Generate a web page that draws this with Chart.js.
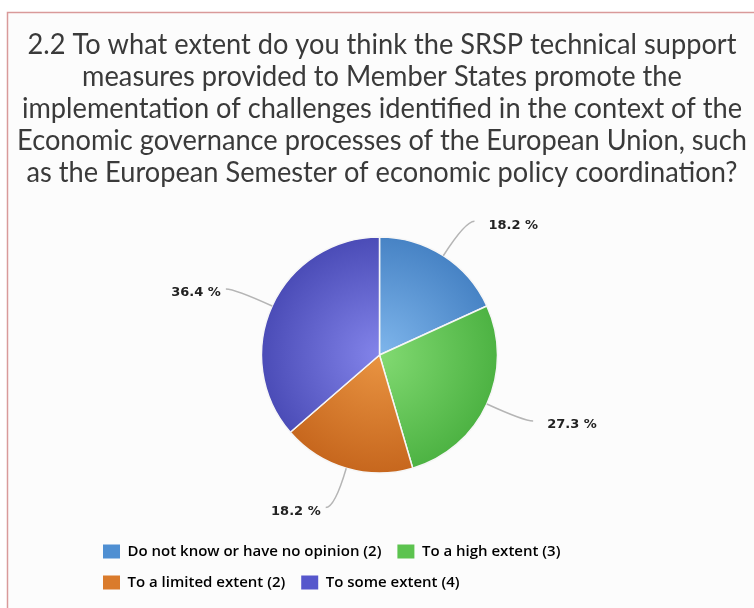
<!DOCTYPE html>
<html>
<head>
<meta charset="utf-8">
<script src="https://cdn.jsdelivr.net/npm/chart.js@4.4.1/dist/chart.umd.min.js"></script>
<style>
  html, body { margin: 0; padding: 0; background: #fff; }
  #wrap { position: relative; width: 754px; height: 608px; }
</style>
</head>
<body>
<div id="wrap"><canvas id="pieChart" width="754" height="608"></canvas></div>
<script>
const titleLines = [
  '2.2 To what extent do you think the SRSP technical support',
  'measures provided to Member States promote the',
  'implementation of challenges identified in the context of the',
  'Economic governance processes of the European Union, such',
  'as the European Semester of economic policy coordination?'
];
const categories = ['Do not know or have no opinion', 'To a high extent', 'To a limited extent', 'To some extent'];
const counts = [2, 3, 2, 4];
const lightColors = ['#7fb6ec', '#82da72', '#e99442', '#8384ea'];
const darkColors = ['#4682c4', '#4cb242', '#c6661d', '#4a4bb6'];
const legendColors = ['#4f8fd2', '#5cc34f', '#da7b2c', '#5657cc'];

document.addEventListener('DOMContentLoaded', function () {
  const total = counts.reduce((a, b) => a + b, 0);

  // frame, background and the question text (wider than the chart area)
  const frame = {
    id: 'frame',
    beforeDraw(chart) {
      const ctx = chart.ctx;
      ctx.save();
      ctx.fillStyle = '#ffffff';
      ctx.fillRect(0, 0, chart.width, chart.height);
      ctx.fillStyle = '#fcfcfc';
      ctx.fillRect(7, 12, chart.width - 7, chart.height - 12);
      ctx.strokeStyle = '#d99a9a';
      ctx.lineWidth = 1.5;
      ctx.beginPath();
      ctx.moveTo(7.5, chart.height);
      ctx.lineTo(7.5, 12.5);
      ctx.lineTo(chart.width, 12.5);
      ctx.stroke();

      // condensed look: 28px Lato squeezed so the first line is ~709px wide
      ctx.font = '28px Lato';
      const sx = 709 / ctx.measureText(titleLines[0]).width;
      ctx.fillStyle = '#3a3a3a';
      ctx.textAlign = 'center';
      ctx.textBaseline = 'middle';
      ctx.translate(382, 0);
      ctx.scale(sx, 1);
      titleLines.forEach((line, i) => ctx.fillText(line, 0, 45 + i * 32));
      ctx.restore();
    }
  };

  // outside labels with curved leader lines
  const pieLabels = {
    id: 'pieLabels',
    afterDatasetsDraw(chart) {
      const ctx = chart.ctx;
      const meta = chart.getDatasetMeta(0);
      ctx.save();
      ctx.font = 'bold 13px "DejaVu Sans"';
      ctx.textBaseline = 'middle';
      meta.data.forEach((arc, i) => {
        const p = arc.getProps(['x', 'y', 'startAngle', 'endAngle', 'outerRadius'], true);
        const mid = (p.startAngle + p.endAngle) / 2;
        const cos = Math.cos(mid), sin = Math.sin(mid);
        const x0 = p.x + cos * p.outerRadius, y0 = p.y + sin * p.outerRadius;
        const x1 = p.x + cos * (p.outerRadius + 41), y1 = p.y + sin * (p.outerRadius + 41);
        const right = cos >= 0;
        const x2 = x1 + (right ? 9 : -9);
        ctx.strokeStyle = '#b5b5b5';
        ctx.lineWidth = 1.5;
        ctx.beginPath();
        ctx.moveTo(x0, y0);
        ctx.quadraticCurveTo(x1, y1, x2, y1);
        ctx.stroke();
        ctx.fillStyle = '#222222';
        ctx.textAlign = right ? 'left' : 'right';
        const label = (counts[i] / total * 100).toFixed(1) + ' %';
        ctx.fillText(label, x2 + (right ? 14 : -5), y1 + 4);
      });
      ctx.restore();
    }
  };

  new Chart(document.getElementById('pieChart'), {
    type: 'pie',
    data: {
      labels: categories,
      datasets: [{
        data: counts,
        backgroundColor: (c) => {
          const area = c.chart.chartArea;
          if (!area) return legendColors[c.dataIndex];
          const cx = (area.left + area.right) / 2, cy = (area.top + area.bottom) / 2;
          const g = c.chart.ctx.createRadialGradient(cx, cy, 0, cx, cy, 120);
          g.addColorStop(0, lightColors[c.dataIndex]);
          g.addColorStop(1, darkColors[c.dataIndex]);
          return g;
        },
        borderColor: '#f6f6f6',
        borderWidth: 1.5,
        radius: 118
      }]
    },
    options: {
      responsive: false,
      animation: false,
      layout: { padding: { left: 87, right: 82, top: 182, bottom: 8 } },
      plugins: {
        title: { display: false },
        legend: {
          position: 'bottom',
          align: 'start',
          labels: {
            boxWidth: 17,
            boxHeight: 14,
            padding: 16,
            color: '#1a1a1a',
            font: { family: 'Open Sans', size: 15, weight: '600' },
            generateLabels: () => categories.map((cat, i) => ({
              text: cat + ' (' + counts[i] + ')',
              fillStyle: legendColors[i],
              strokeStyle: legendColors[i],
              lineWidth: 0,
              index: i
            }))
          }
        },
        tooltip: { enabled: false }
      }
    },
    plugins: [frame, pieLabels]
  });
});
</script>
</body>
</html>
